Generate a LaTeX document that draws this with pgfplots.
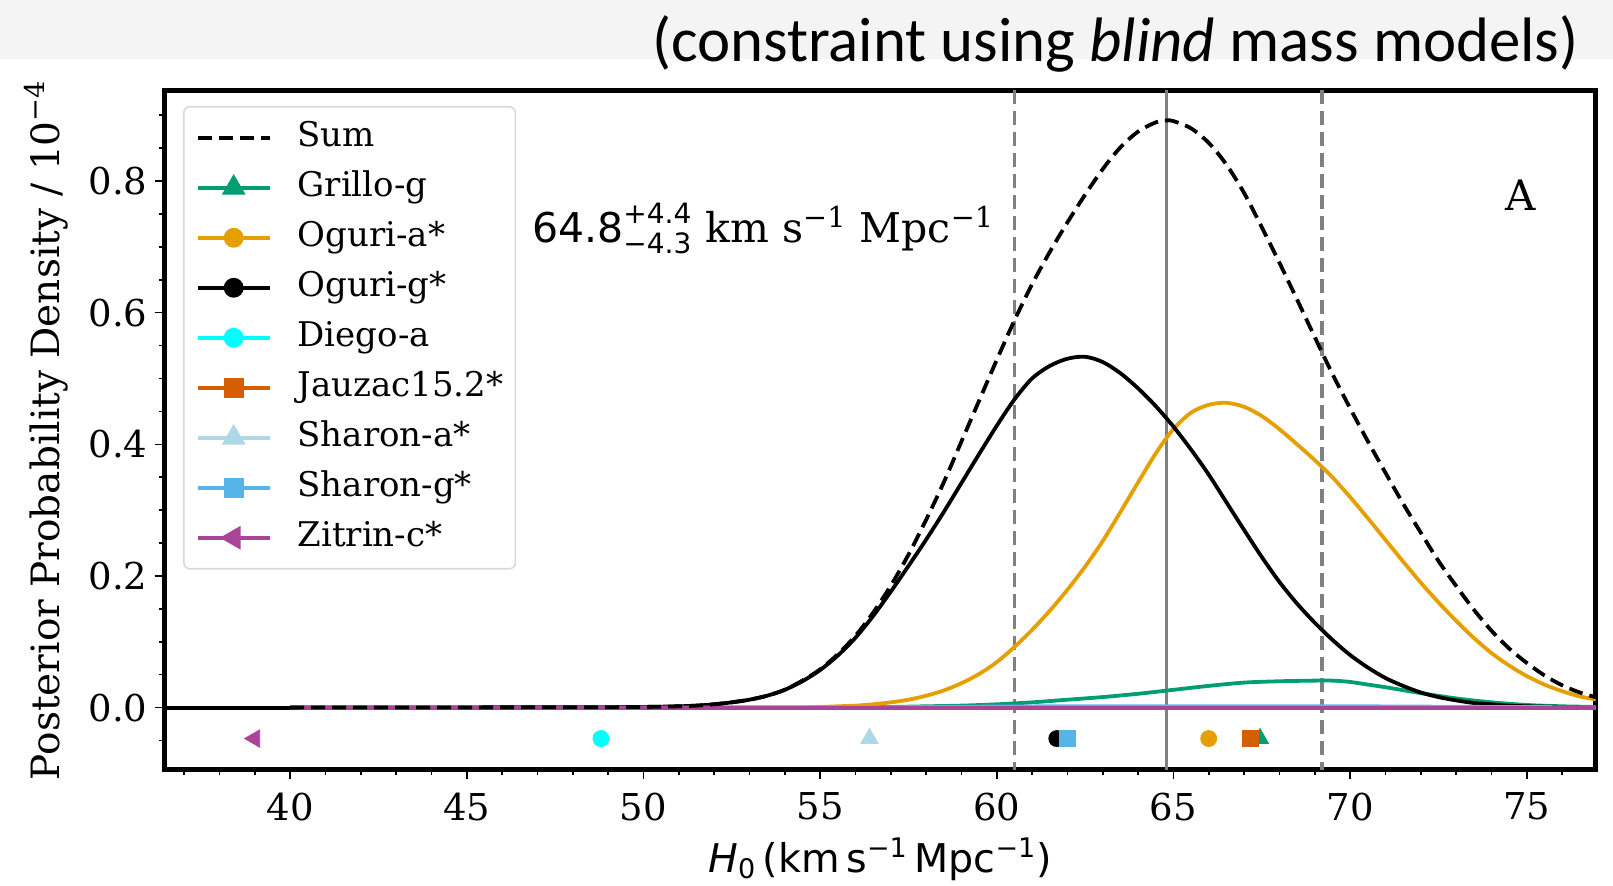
\documentclass[border=0pt]{standalone}
\usepackage{fontspec}
\setmainfont{DejaVu Serif}
\setsansfont{DejaVu Sans}
\newfontfamily\titlefont{Carlito}
\usepackage{pgfplots}
\pgfplotsset{compat=1.18}

\definecolor{cgrillo}{HTML}{009E73}
\definecolor{coguria}{HTML}{E69F00}
\definecolor{cdiego}{HTML}{00FFFF}
\definecolor{cjauzac}{HTML}{D55E00}
\definecolor{csharona}{HTML}{ADD8E6}
\definecolor{csharong}{HTML}{56B4E9}
\definecolor{czitrin}{HTML}{AA4499}
\definecolor{bandgray}{HTML}{F4F4F4}

\newcommand{\fsz}[1]{\fontsize{#1}{#1}\selectfont}

\begin{document}
\begin{tikzpicture}
\path[use as bounding box] (0pt,0pt) rectangle (806.5pt,443pt);
\fill[bandgray] (0pt,413.7pt) rectangle (806.5pt,443pt);
\node[anchor=base east, inner sep=0pt, font=\titlefont\fsz{31.4}] at (789.5pt,412pt)
  {(constraint using \textit{blind} mass models)};

\begin{axis}[
    at={(82.3pt,58.25pt)}, anchor=south west,
    width=715.5pt, height=339.5pt, scale only axis,
    xmin=36.45, xmax=76.95,
    ymin=-0.094, ymax=0.9375,
    xtick={40,45,...,75},
    minor xtick={37,38,...,76},
    ytick={0,0.2,0.4,0.6,0.8},
    minor ytick={-0.05,0.05,0.1,0.15,0.25,0.3,0.35,0.45,0.5,0.55,0.65,0.7,0.75,0.85,0.9},
    xtick pos=bottom, ytick pos=left,
    tick align=outside,
    major tick length=5pt, minor tick length=3pt,
    tick style={black, line width=0.8pt},
    axis line style={line width=2.2pt},
    /pgf/number format/assume math mode=true,
    tick label style={font=\fsz{18.5}},
    xticklabel style={yshift=-3pt},
    yticklabel style={/pgf/number format/.cd, fixed, fixed zerofill, precision=1},
    ylabel={Posterior Probability Density / 10\textsuperscript{−4}},
    every axis y label/.style={at={(axis description cs:-0.0829,0.5)}, rotate=90, anchor=center, font=\fsz{19.5}},
    xlabel={$\mbox{\itshape H}_{\mbox{\fsz{13.5}0}}$\,(km\,s$^{\mbox{\fsz{13.5}−1}}$\,Mpc$^{\mbox{\fsz{13.5}−1}}$)},
    every axis x label/.style={at={(axis description cs:0.5,-0.1318)}, anchor=center, font=\sffamily\fsz{19.8}},
    legend cell align=left,
    legend style={at={(0.01286,0.9772)}, anchor=north west,
        draw=black!15, line width=0.8pt, rounded corners=3pt, fill=white,
        inner xsep=6pt, inner ysep=7pt, row sep=8pt, column sep=13pt,
        font=\fsz{17},
        nodes={inner sep=0pt, text height=13pt, text depth=4pt}},
    legend image code/.code={\draw[sharp corners, mark repeat=2, mark phase=2, #1]
        plot coordinates {(0pt,0pt) (18pt,0pt) (36pt,0pt)};},
]
% legend entries
\addlegendimage{black, line width=1.9pt, dash pattern=on 7pt off 3.5pt}
\addlegendentry{Sum}
\addlegendimage{cgrillo, line width=1.9pt, mark=triangle*, mark size=5pt}
\addlegendentry{Grillo-g}
\addlegendimage{coguria, line width=1.9pt, mark=*, mark size=4pt}
\addlegendentry{Oguri-a*}
\addlegendimage{black, line width=1.9pt, mark=*, mark size=4pt}
\addlegendentry{Oguri-g*}
\addlegendimage{cdiego, line width=1.9pt, mark=*, mark size=4pt}
\addlegendentry{Diego-a}
\addlegendimage{cjauzac, line width=1.9pt, mark=square*, mark size=4pt}
\addlegendentry{Jauzac15.2*}
\addlegendimage{csharona, line width=1.9pt, mark=triangle*, mark size=5pt}
\addlegendentry{Sharon-a*}
\addlegendimage{csharong, line width=1.9pt, mark=square*, mark size=4pt}
\addlegendentry{Sharon-g*}
\addlegendimage{czitrin, line width=1.9pt, mark=triangle*, mark size=5pt, mark options={rotate=90}}
\addlegendentry{Zitrin-c*}

% zero line
\addplot[forget plot, black, line width=1.9pt] coordinates {(36,0) (78,0)};

% median and interval
\addplot[forget plot, gray, line width=1.8pt] coordinates {(64.8,-0.2) (64.8,1)};
\addplot[forget plot, gray, line width=1.8pt, dash pattern=on 7pt off 3.5pt] coordinates {(60.5,-0.2) (60.5,1)};
\addplot[forget plot, gray, line width=1.8pt, dash pattern=on 7pt off 3.5pt] coordinates {(69.2,-0.2) (69.2,1)};

% Grillo-g
\addplot[forget plot, cgrillo, line width=1.9pt, smooth] coordinates {
 (40,0) (50,0) (55,0) (56,0.0005) (57,0.001) (58,0.002) (59,0.003) (60,0.005)
 (61,0.008) (62,0.012) (63,0.016) (64,0.021) (65,0.027) (66,0.033) (67,0.038)
 (68,0.040) (69,0.041) (69.5,0.041) (70,0.039) (70.5,0.035) (71,0.031) (72,0.022)
 (73,0.014) (74,0.008) (75,0.004) (76,0.002) (77,0.001)};

% Oguri-a
\addplot[forget plot, coguria, line width=1.9pt, smooth] coordinates {
 (40,0) (50,0) (54,0) (55,0.001) (55.5,0.002) (56,0.003) (56.5,0.005) (57,0.008)
 (57.5,0.012) (58,0.018) (58.5,0.026) (59,0.037) (59.5,0.051) (60,0.069) (60.5,0.092)
 (61,0.118) (61.5,0.147) (62,0.179) (62.5,0.214) (63,0.253) (63.5,0.297) (64,0.342)
 (64.5,0.386) (65,0.423) (65.5,0.448) (66,0.46) (66.5,0.463) (67,0.457) (67.5,0.443)
 (68,0.423) (68.5,0.4) (69,0.376) (69.5,0.35) (70,0.32) (70.5,0.288) (71,0.255)
 (71.5,0.222) (72,0.19) (72.5,0.16) (73,0.132) (73.5,0.106) (74,0.083) (74.5,0.064)
 (75,0.048) (75.5,0.035) (76,0.025) (76.5,0.017) (77,0.012)};

% Oguri-g
\addplot[forget plot, black, line width=1.9pt, smooth] coordinates {
 (40,0) (48,0.0005) (50,0.001) (51,0.002) (51.5,0.003) (52,0.005) (52.5,0.008)
 (53,0.012) (53.5,0.018) (54,0.027) (54.5,0.040) (55,0.057) (55.5,0.079) (56,0.106)
 (56.5,0.139) (57,0.176) (57.5,0.215) (58,0.255) (58.5,0.297) (59,0.341) (59.5,0.385)
 (60,0.428) (60.5,0.468) (61,0.5) (61.5,0.519) (62,0.530) (62.5,0.533) (63,0.525)
 (63.5,0.508) (64,0.485) (64.5,0.458) (65,0.427) (65.5,0.392) (66,0.354) (66.5,0.312)
 (67,0.27) (67.5,0.229) (68,0.191) (68.5,0.158) (69,0.129) (69.5,0.103) (70,0.080)
 (70.5,0.061) (71,0.045) (71.5,0.033) (72,0.023) (72.5,0.016) (73,0.011) (73.5,0.007)
 (74,0.005) (74.5,0.003) (75,0.002) (76,0.001) (77,0.0005)};

% Diego-a
\addplot[forget plot, cdiego, line width=1.9pt] coordinates {(40,0) (58,0) (77,0)};
% Jauzac15.2
\addplot[forget plot, cjauzac, line width=1.9pt] coordinates {(40,0) (58,0) (77,0)};
% Sharon-a
\addplot[forget plot, csharona, line width=1.9pt] coordinates {(40,0) (58,0) (77,0)};
% Sharon-g
\addplot[forget plot, csharong, line width=1.9pt, smooth] coordinates {
 (40,0) (55,0) (58,0.001) (62,0.002) (66,0.002) (70,0.002) (74,0.001) (77,0.0005)};
% Zitrin-c
\addplot[forget plot, czitrin, line width=1.9pt] coordinates {(40,0) (58,0) (77,0)};

% best-fit markers
\addplot[forget plot, only marks, mark=triangle*, mark size=5pt, cgrillo] coordinates {(67.45,-0.047)};
\addplot[forget plot, only marks, mark=*, mark size=4pt, coguria] coordinates {(66.0,-0.047)};
\addplot[forget plot, only marks, mark=*, mark size=4pt, black] coordinates {(61.7,-0.047)};
\addplot[forget plot, only marks, mark=*, mark size=4pt, cdiego] coordinates {(48.8,-0.047)};
\addplot[forget plot, only marks, mark=square*, mark size=4pt, cjauzac] coordinates {(67.18,-0.047)};
\addplot[forget plot, only marks, mark=triangle*, mark size=5pt, csharona] coordinates {(56.4,-0.047)};
\addplot[forget plot, only marks, mark=square*, mark size=4pt, csharong] coordinates {(62.0,-0.047)};
\addplot[forget plot, only marks, mark=triangle*, mark size=5pt, mark options={rotate=90}, czitrin] coordinates {(39.0,-0.047)};

% Sum
\addplot[forget plot, black, line width=1.9pt, dash pattern=on 7pt off 3.5pt, smooth] coordinates {
 (40,0) (48,0.0005) (50,0.001) (51,0.002) (51.5,0.003) (52,0.005) (52.5,0.008)
 (53,0.012) (53.5,0.018) (54,0.027) (54.5,0.041) (55,0.058) (55.5,0.081) (56,0.109)
 (56.5,0.144) (57,0.185) (57.5,0.232) (58,0.285) (58.5,0.342) (59,0.404) (59.5,0.466)
 (60,0.528) (60.5,0.588) (61,0.643) (61.5,0.692) (62,0.737) (62.5,0.779) (63,0.818)
 (63.5,0.851) (64,0.875) (64.5,0.889) (64.8,0.892) (65,0.891) (65.5,0.88) (66,0.858)
 (66.5,0.825) (67,0.782) (67.5,0.73) (68,0.676) (68.5,0.62) (69,0.563) (69.5,0.507)
 (70,0.455) (70.5,0.405) (71,0.357) (71.5,0.31) (72,0.266) (72.5,0.223) (73,0.185)
 (73.5,0.149) (74,0.117) (74.5,0.09) (75,0.068) (75.5,0.049) (76,0.034) (76.5,0.023)
 (77,0.015)};

\node[anchor=west, inner sep=0pt, font=\fsz{20.5}] at (axis cs:46.84,0.728)
  {$\mbox{\sffamily 64.8}^{\mbox{\sffamily\fsz{14}+4.4}}_{\mbox{\sffamily\fsz{14}−4.3}}$ km s\textsuperscript{−1} Mpc\textsuperscript{−1}};
\node[font=\fsz{21}] at (axis cs:74.83,0.778) {A};
\end{axis}
\end{tikzpicture}
\end{document}
